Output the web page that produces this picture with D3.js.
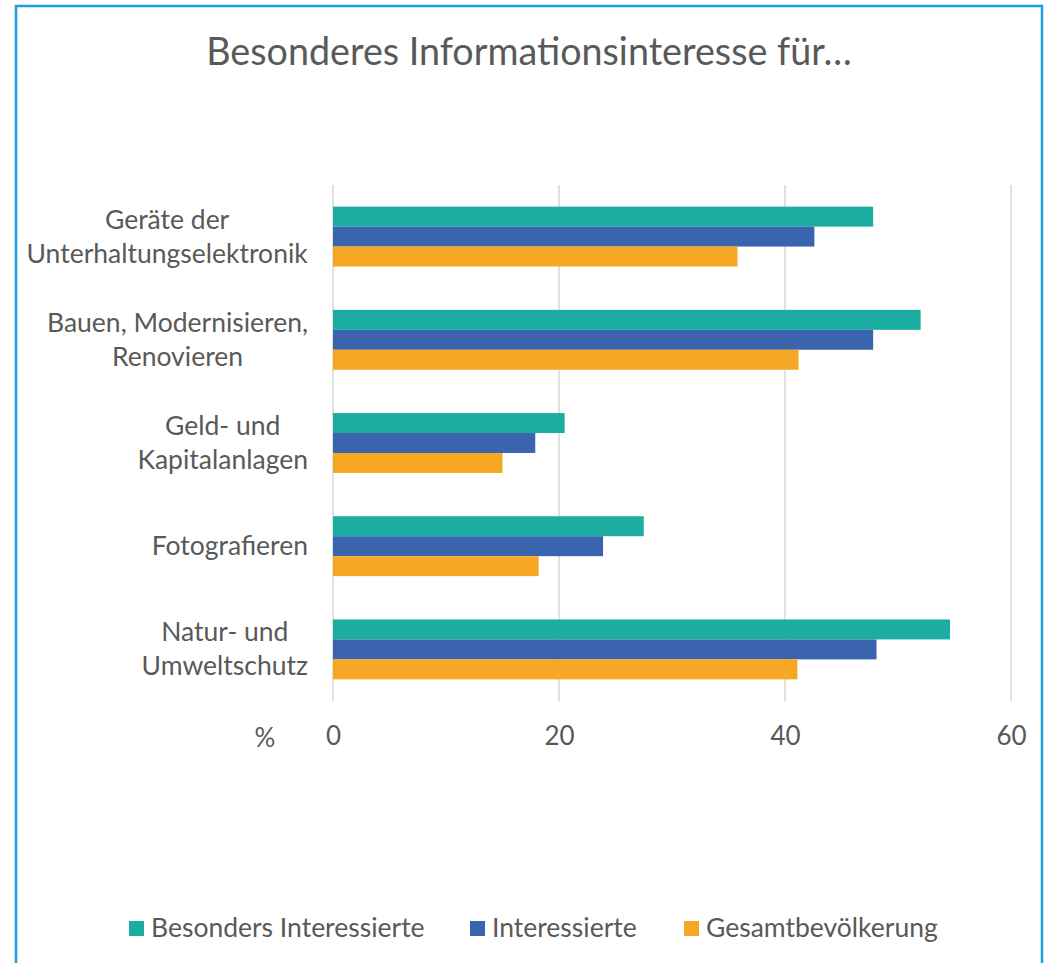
<!DOCTYPE html>
<html><head><meta charset="utf-8">
<script src="https://cdn.jsdelivr.net/npm/d3@7"></script>
<style>html,body{margin:0;padding:0;background:#fff;}svg{display:block;font-family:Lato,"Open Sans",sans-serif;}</style>
</head><body>
<script>
const categories = ["Geräte der\nUnterhaltungselektronik","Bauen, Modernisieren,\nRenovieren","Geld- und\nKapitalanlagen","Fotografieren","Natur- und\nUmweltschutz"];
const seriesNames = ["Besonders Interessierte","Interessierte","Gesamtbevölkerung"];
const besondersInteressierte = [47.8, 52.0, 20.5, 27.5, 54.6];
const interessierte = [42.6, 47.8, 17.9, 23.9, 48.1];
const gesamtbevoelkerung = [35.8, 41.2, 15.0, 18.2, 41.1];
const xTicks = [0, 20, 40, 60];
const colors = ["#1cada2", "#3a65ae", "#f6a723"];
const seriesValues = [besondersInteressierte, interessierte, gesamtbevoelkerung];

const W = 1051, H = 963;
const svg = d3.select("body").append("svg").attr("width", W).attr("height", H);
svg.append("rect").attr("width", W).attr("height", H).attr("fill", "#fff");
svg.append("rect").attr("x", 16).attr("y", 6).attr("width", 1026).attr("height", 1000)
  .attr("fill", "none").attr("stroke", "#1b9be0").attr("stroke-width", 2.5);

const textColor = "#595959";
svg.append("text").attr("x", 529).attr("y", 65).attr("text-anchor", "middle")
  .attr("font-size", 37.7).attr("fill", textColor).text("Besonderes Informationsinteresse für…");

const x = d3.scaleLinear().domain([0, 60]).range([333, 1011]);
const y = d3.scaleBand().domain(categories).range([185, 701]).paddingInner(0.42).paddingOuter(0.21);
const ySub = d3.scaleBand().domain(seriesNames).range([0, y.bandwidth()]);

// gridlines
svg.append("g").selectAll("line").data(xTicks).join("line")
  .attr("x1", d => x(d)).attr("x2", d => x(d)).attr("y1", 185).attr("y2", 701)
  .attr("stroke", "#d9d9d9").attr("stroke-width", 1.6);

// bars
seriesNames.forEach((s, si) => {
  svg.append("g").selectAll("rect").data(categories).join("rect")
    .attr("x", x(0)).attr("y", c => y(c) + ySub(s))
    .attr("width", (c, i) => x(seriesValues[si][i]) - x(0))
    .attr("height", ySub.bandwidth())
    .attr("fill", colors[si]);
});

// x axis labels
const xAxis = d3.axisBottom(x).tickValues(xTicks).tickSize(0).tickPadding(0);
const gx = svg.append("g").attr("transform", "translate(0,727)").call(xAxis);
gx.select(".domain").remove();
gx.selectAll("text").attr("font-size", 26).attr("fill", textColor).attr("font-family", "Lato").attr("dy", "0.71em");
svg.append("text").attr("x", 265).attr("y", 747).attr("text-anchor", "middle")
  .attr("font-size", 26).attr("fill", textColor).text("%");

// category labels
categories.forEach(c => {
  const lines = c.split("\n");
  const cy = y(c) + y.bandwidth() / 2;
  const lh = 34;
  const t = svg.append("text").attr("text-anchor", "middle").attr("font-size", 26.5).attr("fill", textColor);
  lines.forEach((l, i) => {
    t.append("tspan").attr("x", 0).attr("y", cy + (i - (lines.length - 1) / 2) * lh + 9).text(l);
  });
  const bb = t.node().getBBox();
  t.attr("transform", `translate(${308 - bb.width / 2},0)`);
});

// legend
const legendX = [129, 470, 684];
seriesNames.forEach((s, i) => {
  svg.append("rect").attr("x", legendX[i]).attr("y", 921).attr("width", 15).attr("height", 15).attr("fill", colors[i]);
  svg.append("text").attr("x", legendX[i] + 22).attr("y", 937).attr("font-size", 26.5).attr("fill", textColor).text(s);
});
</script>
</body></html>
